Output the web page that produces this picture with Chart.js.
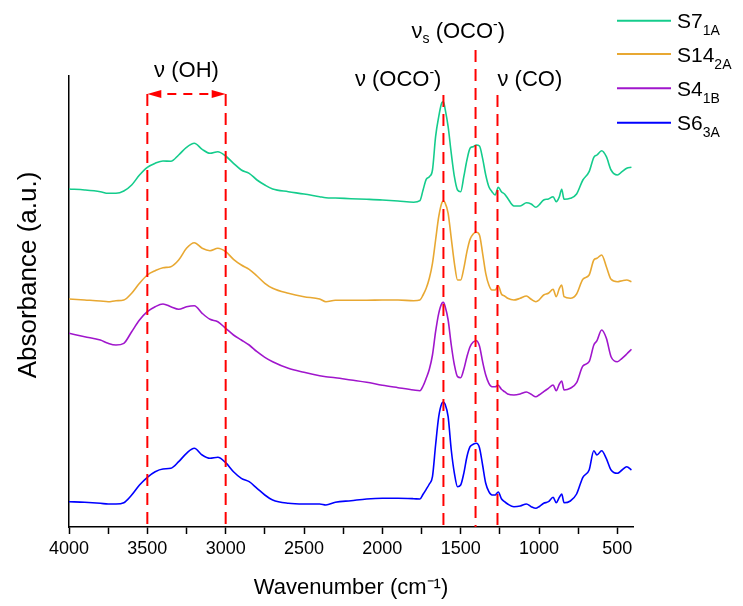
<!DOCTYPE html>
<html>
<head>
<meta charset="utf-8">
<title>FTIR</title>
<script src="https://cdn.jsdelivr.net/npm/chart.js@4.4.1/dist/chart.umd.min.js"></script>
<style>
  html, body { margin: 0; padding: 0; background: #fff; }
</style>
</head>
<body>
<canvas id="graficoFTIR" width="743" height="606"></canvas>
<script>
// numero de onda (cm-1), comun a las cuatro muestras
const wavenumbers = [4000, 3900, 3800, 3750, 3700, 3650, 3600, 3550, 3500, 3450, 3400, 3350, 3300, 3250, 3200, 3150, 3100, 3050, 3000, 2950,
  2900, 2850, 2800, 2750, 2700, 2600, 2500, 2400, 2360, 2300, 2200, 2100, 2000, 1900,
  1800, 1760, 1740, 1720, 1700, 1680, 1660, 1640, 1620, 1610, 1600, 1580, 1560, 1540, 1520, 1500, 1480, 1460, 1440, 1420, 1400,
  1380, 1360, 1340, 1320, 1300, 1280, 1260, 1240, 1220, 1200, 1160, 1120, 1080, 1050, 1020, 1000, 970, 940, 910, 890,
  870, 855, 840, 800, 760, 720, 680, 650, 630, 600, 570, 540, 500, 470, 440, 410];

// absorbancia (u.a., ya desplazada)
const s7_1A = [338, 337, 335.3, 333.7, 333.7, 336, 342, 352, 359.7, 363.7, 366, 365.7, 372, 379.7, 383.7, 377.7, 373.7, 375.3, 371, 363.7,
  357, 353.7, 347, 342, 338, 335.3, 333, 330.3, 329.3, 329, 328.3, 327.7, 327, 326,
  324.7, 326.3, 337, 347.7, 350.3, 357, 390.3, 410.3, 424.3, 425.3, 418.7, 400.3, 373.7, 350.3, 337, 335.3, 350.3, 367, 378.7, 380.3, 382,
  381, 368.7, 352, 340.3, 335.3, 332, 339.7, 335.3, 333, 328.7, 321, 321, 324.3, 323, 319.7, 322, 327, 328, 330.3, 325.3,
  330.3, 337.7, 327.7, 328.7, 333, 347, 355.3, 369.7, 372, 376.3, 370.3, 357, 352, 355.3, 358.7, 359.7];

const s14_2A = [228, 227, 226, 225.3, 226.3, 227, 233.7, 243.7, 252, 256.3, 259.3, 260.3, 267, 278.7, 284.3, 278.7, 276.3, 278.7, 275.3, 267.7,
  262, 257.7, 251, 243.7, 238.7, 233.7, 230.3, 228, 225.3, 226.7, 226.7, 226.7, 227, 227,
  226.3, 227, 232, 238.7, 248.7, 263.7, 287, 310.3, 324.3, 326, 324.3, 313.7, 288.7, 263.7, 247, 247, 258.7, 275.3, 287.7, 293, 294.7,
  292, 273.7, 253.7, 242, 237, 237, 241.3, 233, 231, 228.7, 227, 228.7, 231, 227.7, 225.3, 227, 232, 233.7, 237.7, 230.3,
  238.7, 242, 230.3, 228.7, 233, 247.7, 252, 267, 268.7, 272, 260.3, 247.7, 245.3, 246.3, 247, 245.3];

const s4_1B = [193.7, 190.3, 187, 183.7, 182, 183.7, 195.3, 207, 215.3, 220.3, 223, 220.3, 217.7, 220.3, 221.3, 213.7, 207.7, 205.3, 198.7, 192,
  187, 182, 175.3, 169.7, 165.3, 158.7, 154.7, 151.3, 150.3, 149.3, 147, 144.7, 141.7, 139.3,
  137, 136.3, 141, 148.7, 157.7, 172, 195.3, 213.7, 223.7, 224.7, 221, 207, 182, 162, 150.3, 149.3, 157.7, 170.3, 180.3, 185, 186.3,
  181, 165.3, 152, 143.7, 140.3, 140.3, 141.7, 137.7, 135.3, 133, 132, 133, 135, 132.7, 130.3, 132, 135.3, 138.7, 142, 136.3,
  143, 146, 137, 138.7, 144.3, 161, 165.3, 182, 186.3, 197, 188.7, 170.3, 165.3, 168.7, 173, 177.7];

const s6_3A = [25.3, 24.7, 23.7, 23, 23, 24.3, 32, 42, 49.7, 55.3, 58, 58.7, 65.3, 73.7, 78.7, 72, 68.7, 69.7, 64.3, 55.3,
  48.7, 45.3, 38.7, 32, 27, 23.7, 23, 23, 22, 24.7, 26.3, 28, 28.7, 28.7,
  28.3, 28, 32.7, 37.7, 43, 50.3, 82, 110.3, 123.7, 125, 123, 110.3, 77, 53.7, 40.3, 42, 53.7, 70.3, 80.3, 82.7, 83.7,
  79.3, 62, 43.7, 35.3, 32, 32, 35, 28.3, 25.3, 23, 20.3, 21, 23, 20.3, 18.7, 20.3, 23.7, 25.3, 29.7, 24.3,
  29.7, 33, 24.3, 26, 33, 49.7, 57, 76.3, 72, 76.3, 68.3, 57, 53.7, 57, 60.3, 57];

const seriesNames = ['S7', 'S14', 'S4', 'S6'];
const seriesSubs = ['1A', '2A', '1B', '3A'];
const seriesValues = [s7_1A, s14_2A, s4_1B, s6_3A];
const seriesColors = ['#14cc8c', '#e8a832', '#a016cc', '#0000ff'];

// ticks del eje x
const xTicks = [4000, 3500, 3000, 2500, 2000, 1500, 1000, 500];
const xMinorTicks = [3750, 3250, 2750, 2250, 1750, 1250, 750];

// bandas marcadas (cm-1)
const ohBand = [3500, 3000];
const ocoBand = 1610;
const ocoSymBand = 1405;
const coBand = 1265;

const FONT = '"Liberation Sans", Arial, sans-serif';

// escribe texto con subindices / superindices: [texto, tamano, desplazamiento]
function escribir(ctx, partes, x, y, align) {
  let ancho = 0;
  partes.forEach(p => { ctx.font = p[1] + 'px ' + FONT; ancho += ctx.measureText(p[0]).width; });
  let cx = align === 'right' ? x - ancho : (align === 'center' ? x - ancho / 2 : x);
  ctx.textAlign = 'left';
  ctx.textBaseline = 'alphabetic';
  partes.forEach(p => {
    ctx.font = p[1] + 'px ' + FONT;
    ctx.fillText(p[0], cx, y + (p[2] || 0));
    cx += ctx.measureText(p[0]).width;
  });
}

// linea a trazos dibujada tramo por tramo
function lineaDiscontinua(ctx, x1, y1, x2, y2, trazo, hueco) {
  const largo = Math.hypot(x2 - x1, y2 - y1);
  const ux = (x2 - x1) / largo, uy = (y2 - y1) / largo;
  for (let d = 0; d < largo; d += trazo + hueco) {
    const f = Math.min(d + trazo, largo);
    ctx.beginPath();
    ctx.moveTo(x1 + ux * d, y1 + uy * d);
    ctx.lineTo(x1 + ux * f, y1 + uy * f);
    ctx.stroke();
  }
}

function punta(ctx, x, y, dir) {
  ctx.beginPath();
  ctx.moveTo(x, y);
  ctx.lineTo(x + dir * 14, y - 4);
  ctx.lineTo(x + dir * 14, y + 4);
  ctx.closePath();
  ctx.fill();
}

const anotaciones = {
  id: 'anotaciones',
  afterDatasetsDraw(chart) {
    const ctx = chart.ctx;
    const area = chart.chartArea;
    const x = chart.scales.x;
    ctx.save();
    ctx.setLineDash([]);
    ctx.strokeStyle = '#ff0000';
    ctx.fillStyle = '#ff0000';
    ctx.lineWidth = 2;
    ctx.lineCap = 'butt';

    // v(OH): flecha doble y dos lineas
    const xa = x.getPixelForValue(ohBand[0]);
    const xb = x.getPixelForValue(ohBand[1]);
    const yFlecha = 94;
    lineaDiscontinua(ctx, xa, yFlecha, xa, area.bottom, 12, 7);
    lineaDiscontinua(ctx, xb, yFlecha, xb, area.bottom, 12, 7);
    lineaDiscontinua(ctx, xa + 20, yFlecha, xb - 14, yFlecha, 9, 7);
    punta(ctx, xa, yFlecha, 1);
    punta(ctx, xb, yFlecha, -1);

    const x1 = x.getPixelForValue(ocoBand);
    const x2 = x.getPixelForValue(ocoSymBand);
    const x3 = x.getPixelForValue(coBand);
    lineaDiscontinua(ctx, x1, 95, x1, area.bottom, 12, 7);
    lineaDiscontinua(ctx, x2, 50, x2, area.bottom, 12, 7);
    lineaDiscontinua(ctx, x3, 95, x3, area.bottom, 12, 7);

    // textos
    ctx.fillStyle = '#000';
    escribir(ctx, [['\u03bd (OH)', 22]], (xa + xb) / 2, 77, 'center');
    escribir(ctx, [['\u03bd (OCO', 22], ['-', 14, -9], [')', 22]], x1 - 2, 86, 'right');
    escribir(ctx, [['\u03bd', 22], ['s', 14, 5], [' (OCO', 22], ['-', 14, -9], [')', 22]], x2 - 64, 38, 'left');
    escribir(ctx, [['\u03bd (CO)', 22]], x3, 86, 'left');

    // titulo del eje y
    ctx.save();
    ctx.translate(27, 275);
    ctx.rotate(-Math.PI / 2);
    escribir(ctx, [['Absorbance (a.u.)', 26]], 0, 9, 'center');
    ctx.restore();

    // leyenda
    const yLeyenda = [20.7, 54, 88.3, 122.7];
    seriesNames.forEach((n, i) => {
      ctx.strokeStyle = seriesColors[i];
      ctx.lineWidth = 2;
      ctx.beginPath();
      ctx.moveTo(617, yLeyenda[i]);
      ctx.lineTo(671, yLeyenda[i]);
      ctx.stroke();
      ctx.fillStyle = '#000';
      escribir(ctx, [[n, 21], [seriesSubs[i], 14, 7]], 677, yLeyenda[i] + 7.5, 'left');
    });
    ctx.restore();
  }
};

const ctx = document.getElementById('graficoFTIR');
new Chart(ctx, {
  type: 'line',
  data: {
    datasets: seriesNames.map((n, i) => ({
      label: n + seriesSubs[i],
      data: wavenumbers.map((w, j) => ({ x: w, y: seriesValues[i][j] })),
      borderColor: seriesColors[i],
      borderWidth: 1.6,
      pointRadius: 0,
      fill: false,
      cubicInterpolationMode: 'monotone'
    }))
  },
  options: {
    responsive: false,
    animation: false,
    layout: { padding: { top: 76, right: 110, left: 0, bottom: 0 } },
    plugins: { legend: { display: false }, tooltip: { enabled: false } },
    scales: {
      x: {
        type: 'linear',
        reverse: true,
        min: 400,
        max: 4000,
        afterBuildTicks: s => { s.ticks = xTicks.concat(xMinorTicks).sort((a, b) => b - a).map(v => ({ value: v })); },
        afterFit: s => { s.height = 79; },
        ticks: {
          autoSkip: false,
          maxRotation: 0,
          padding: 4,
          color: '#000',
          font: { family: FONT, size: 18 },
          callback: v => xTicks.includes(v) ? String(v) : ''
        },
        grid: { display: true, drawOnChartArea: false, drawTicks: true, tickLength: 7, tickWidth: 1.5, tickColor: '#000' },
        border: { display: true, color: '#000', width: 1.5 },
        title: { display: true, text: 'Wavenumber (cm\u207b\u00b9)', color: '#000', font: { family: FONT, size: 22 }, padding: { top: 0, bottom: 5 } }
      },
      y: {
        min: 0,
        max: 451,
        afterFit: s => { s.width = 69; },
        ticks: { display: false },
        grid: { display: false },
        border: { display: true, color: '#000', width: 1.5 }
      }
    }
  },
  plugins: [anotaciones]
});
</script>
</body>
</html>
